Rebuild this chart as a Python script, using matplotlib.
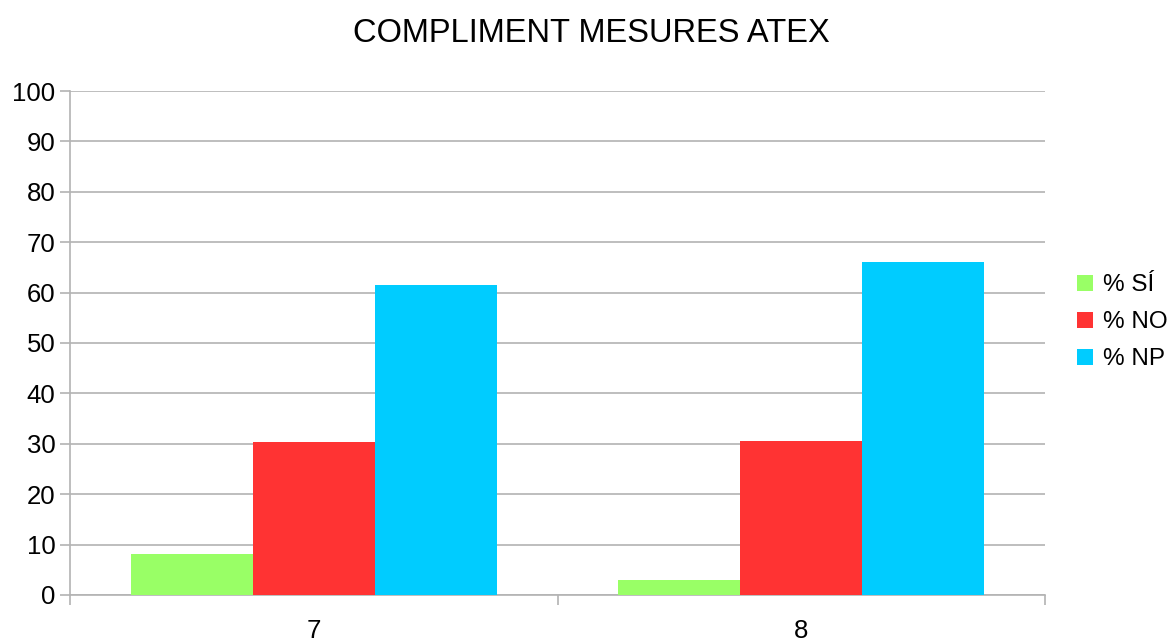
import matplotlib

matplotlib.use("Agg")

import numpy as np
import matplotlib.pyplot as plt
from matplotlib.ticker import FixedLocator

plt.rcParams["font.family"] = ["Liberation Sans", "DejaVu Sans"]

categories = ["7", "8"]
series_names = ["% SÍ", "% NO", "% NP"]
si_values = [8.1, 3.0]
no_values = [30.3, 30.6]
np_values = [61.6, 66.1]
y_ticks = list(range(0, 101, 10))

colors = ["#99ff66", "#ff3333", "#00ccff"]
grid_color = "#b3b3b3"

fig = plt.figure(figsize=(11.73, 6.41), dpi=100)
ax = fig.add_axes([0.0597, 0.0718, 0.8312, 0.7862])

x = np.arange(len(categories))
width = 0.25
for i, (name, vals) in enumerate(zip(series_names, [si_values, no_values, np_values])):
    ax.bar(x + (i - 1) * width, vals, width, color=colors[i], label=name, zorder=3)

ax.set_xlim(-0.5, len(categories) - 0.5)
ax.set_ylim(0, 100)
ax.set_yticks(y_ticks)
ax.yaxis.grid(True, color=grid_color, linewidth=1.2, zorder=0)
ax.set_axisbelow(True)

# category labels at centres, tick marks on the boundaries
ax.set_xticks(x)
ax.set_xticklabels(categories)
ax.xaxis.set_minor_locator(FixedLocator(np.arange(len(categories) + 1) - 0.5))
ax.tick_params(axis="x", which="major", length=0, pad=17, labelsize=18.5)
ax.tick_params(axis="x", which="minor", length=7.5, width=1.2, color=grid_color)
ax.tick_params(axis="y", length=7.5, width=1.2, color=grid_color, labelsize=18.5, pad=3)

for side in ["top", "right"]:
    ax.spines[side].set_visible(False)
for side in ["left", "bottom"]:
    ax.spines[side].set_color(grid_color)
    ax.spines[side].set_linewidth(1.2)

fig.text(0.504, 0.947, "COMPLIMENT MESURES ATEX", ha="center", va="center", fontsize=23.5)

fig.legend(
    loc="center left",
    bbox_to_anchor=(0.918, 0.497),
    bbox_transform=fig.transFigure,
    frameon=False,
    fontsize=17.5,
    borderpad=0,
    borderaxespad=0,
    handlelength=0.66,
    handleheight=0.66,
    handletextpad=0.41,
    labelspacing=0.62,
)

fig.savefig("out.png", dpi=100)
